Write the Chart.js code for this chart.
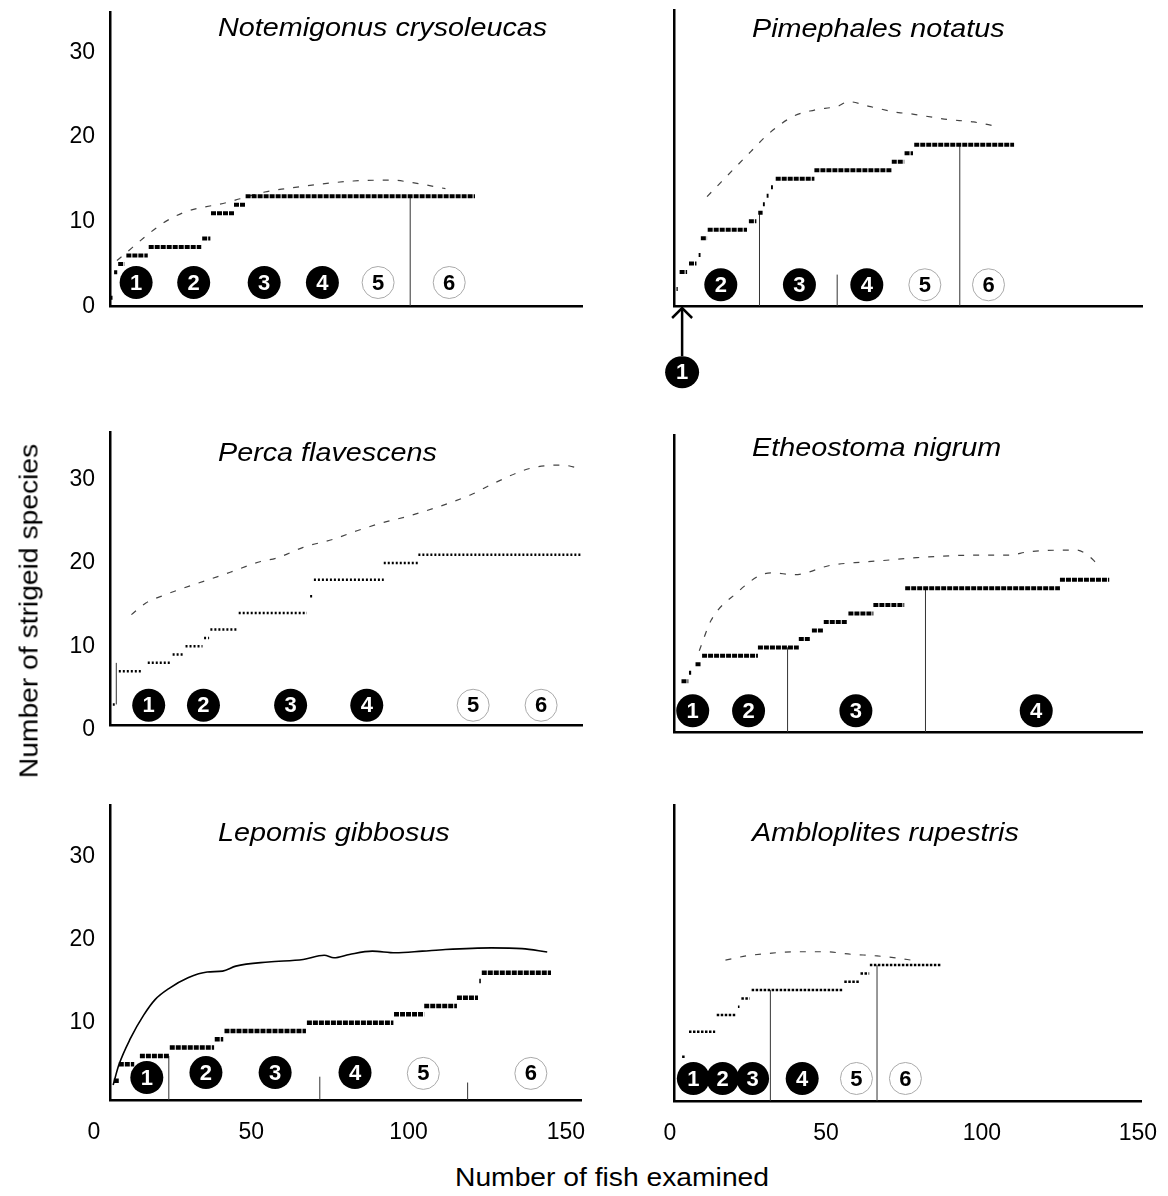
<!DOCTYPE html>
<html>
<head>
<meta charset="utf-8">
<title>Strigeid species accumulation</title>
<script src="https://cdn.jsdelivr.net/npm/chart.js@4.4.1/dist/chart.umd.min.js"></script>
<style>
  html, body { margin: 0; padding: 0; background: #fff; }
  body { position: relative; width: 1168px; height: 1196px; overflow: hidden; font-family: "Liberation Sans", Arial, sans-serif; color: #000; }
  canvas { position: absolute; }
  .sp { position: absolute; font-size: 25px; font-style: italic; line-height: 25px; white-space: nowrap; transform: scaleX(1.15); transform-origin: 0 50%; }
  .ax { position: absolute; font-size: 25px; line-height: 25px; white-space: nowrap; }
</style>
</head>
<body>
<canvas id="c1"></canvas>
<canvas id="c2"></canvas>
<canvas id="c3"></canvas>
<canvas id="c4"></canvas>
<canvas id="c5"></canvas>
<canvas id="c6"></canvas>

<div class="sp" style="left:218px;top:15px">Notemigonus crysoleucas</div>
<div class="sp" style="left:752px;top:16px">Pimephales notatus</div>
<div class="sp" style="left:218px;top:440px">Perca flavescens</div>
<div class="sp" style="left:752px;top:435px">Etheostoma nigrum</div>
<div class="sp" style="left:218px;top:820px">Lepomis gibbosus</div>
<div class="sp" style="left:752px;top:820px">Ambloplites rupestris</div>
<div class="ax" style="left:612px;top:1165px;transform:translateX(-50%) scaleX(1.13)">Number of fish examined</div>
<div class="ax" style="left:29px;top:611px;transform:translate(-50%,-50%) rotate(-90deg) scaleX(1.13)">Number of strigeid species</div>

<script>
const xTicks = [0, 50, 100, 150];
const yTicks = [0, 10, 20, 30];
const yTicksBottom = [10, 20, 30];

// Notemigonus crysoleucas
const ncStart = [0.3, 1.3, 2.6, 5.2, 12.3, 29.3, 32.1, 39.4, 43.1];
const ncEnd   = [0.8, 2.3, 4.6, 12.0, 29.0, 31.9, 39.4, 43.1, 116];
const ncVal   = [1, 4, 5, 6, 7, 8, 11, 12, 13];
const ncEstX  = [2.2, 16.8, 23.6, 37.6, 41.3, 49.2, 55.9, 66.3, 77.3, 89.5, 96.2, 106.6];
const ncEstY  = [5.4, 9.8, 11.1, 12.3, 12.7, 13.5, 13.9, 14.4, 14.8, 14.9, 14.6, 13.9];
const ncLineX = [95.4];
const ncLineLo = [0];
const ncLineHi = [13];
const ncZoneX = [8.3, 26.6, 49, 67.5, 85.2, 107.8];
const ncZoneY = [2.8, 2.8, 2.8, 2.8, 2.8, 2.8];
const ncZoneNum = ['1', '2', '3', '4', '5', '6'];
const ncZoneOpen = [false, false, false, false, true, true];

// Pimephales notatus
const pnStart = [0.8, 1.8, 4.8, 7.9, 8.6, 10.8, 24.0, 27.0, 28.5, 29.7, 31.1, 32.6, 45.0, 69.8, 73.9, 77.0];
const pnEnd   = [1.2, 4.2, 7.2, 8.5, 10.6, 23.4, 26.4, 28.4, 29.1, 30.3, 31.7, 45.0, 69.8, 73.8, 76.6, 109];
const pnVal   = [2, 4, 5, 6, 8, 9, 10, 11, 12, 13, 14, 15, 16, 17, 18, 19];
const pnEstX  = [10.6, 24.6, 30, 38.4, 45, 52.8, 55.8, 63, 72, 75, 80.4, 87.6, 96, 103.2];
const pnEstY  = [12.9, 18.2, 20.2, 22.4, 23.1, 23.6, 24.1, 23.5, 22.8, 22.7, 22.4, 22, 21.7, 21.2];
const pnLineX = [27.4, 52.3, 91.6];
const pnLineLo = [0, 0, 0];
const pnLineHi = [11, 3.7, 19];
const pnZoneX = [2.6, 15, 40.2, 61.8, 80.4, 100.8];
const pnZoneY = [-7.8, 2.5, 2.5, 2.5, 2.5, 2.5];
const pnZoneNum = ['1', '2', '3', '4', '5', '6'];
const pnZoneOpen = [false, false, false, false, true, true];

// Perca flavescens
const pfStart = [0.9, 2.8, 12.0, 19.9, 24.0, 29.9, 31.9, 40.9, 63.6, 64.8, 87.0, 98.0];
const pfEnd   = [1.5, 10.4, 19.3, 23.6, 29.4, 31.5, 40.4, 62.6, 64.5, 87.0, 97.8, 149.5];
const pfVal   = [3, 7, 8, 9, 10, 11, 12, 14, 16, 18, 20, 21];
const pfEstX  = [6.8, 11.4, 16.2, 38.2, 47.9, 52.9, 61.4, 71.2, 78.5, 87, 96.2, 114.5, 122.5, 133.5, 143.8, 148.1];
const pfEstY  = [13.8, 15.2, 16, 18.9, 20.2, 20.6, 21.9, 22.9, 23.9, 24.9, 25.8, 28.2, 29.7, 31.4, 31.8, 31.5];
const pfLineX = [2.0];
const pfLineLo = [3];
const pfLineHi = [8];
const pfZoneX = [12.3, 29.7, 57.4, 81.6, 115.4, 137];
const pfZoneY = [2.9, 2.9, 2.9, 2.9, 2.9, 2.9];
const pfZoneNum = ['1', '2', '3', '4', '5', '6'];
const pfZoneOpen = [false, false, false, false, true, true];

// Etheostoma nigrum
const enStart = [2.4, 4.8, 6.9, 9.0, 26.9, 40.0, 44.2, 48.0, 55.9, 63.9, 74.1, 123.7];
const enEnd   = [4.6, 5.5, 8.6, 26.9, 40.0, 43.8, 47.8, 55.6, 63.9, 73.8, 123.7, 139.5];
const enVal   = [6, 7, 8, 9, 10, 11, 12, 13, 14, 15, 17, 18];
const enEstX  = [8.1, 11.9, 20.3, 27.5, 31.1, 38.8, 50.2, 60.9, 68.1, 77.7, 96.8, 107.5, 113.5, 129, 132.6, 135.6];
const enEstY  = [9.6, 13.2, 16.5, 18.5, 18.8, 18.6, 19.7, 20.1, 20.3, 20.6, 20.9, 20.9, 21.3, 21.5, 20.9, 19.9];
const enLineX = [36.4, 80.6];
const enLineLo = [0, 0];
const enLineHi = [10, 17];
const enZoneX = [6, 23.9, 58.3, 116.1];
const enZoneY = [2.5, 2.5, 2.5, 2.5];
const enZoneNum = ['1', '2', '3', '4'];
const enZoneOpen = [false, false, false, false];

// Lepomis gibbosus
const lgStart = [1.2, 2.8, 9.5, 19.0, 33.3, 36.4, 62.6, 90.3, 99.9, 110.3, 117.4, 118.2];
const lgEnd   = [2.8, 7.7, 19.0, 33.1, 36.0, 62.3, 90.1, 99.9, 110.3, 117.0, 117.9, 140.2];
const lgVal   = [3, 5, 6, 7, 8, 9, 10, 11, 12, 13, 15, 16];
const lgEstX  = [1, 2.8, 6.5, 10.7, 14.4, 18.7, 24.8, 30.9, 35.8, 40, 50.4, 61.4, 68.1, 71.2, 76.1, 83.4, 90.7, 99.3, 106.6, 121.2, 131, 139];
const lgEstY  = [2.5, 4.9, 8.1, 10.9, 12.8, 14.1, 15.4, 16.1, 16.2, 16.8, 17.3, 17.6, 18.1, 17.8, 18.2, 18.6, 18.4, 18.6, 18.8, 19, 18.9, 18.5];
const lgLineX = [18.7, 66.7, 113.7];
const lgLineLo = [0.7, 0.7, 0.7];
const lgLineHi = [6, 3.5, 2.8];
const lgZoneX = [11.7, 30.5, 52.5, 77.9, 99.6, 133.8];
const lgZoneY = [3.4, 4, 4, 4, 3.9, 3.9];
const lgZoneNum = ['1', '2', '3', '4', '5', '6'];
const lgZoneOpen = [false, false, false, false, true, true];

// Ambloplites rupestris
const arStart = [2.6, 4.8, 13.7, 20.5, 21.6, 24.9, 54.6, 59.8, 62.8];
const arEnd   = [3.8, 13.2, 20.1, 21.0, 24.3, 54.4, 59.4, 62.6, 85.7];
const arVal   = [6, 9, 11, 12, 13, 14, 15, 16, 17];
const arEstX  = [16.5, 23.1, 30.3, 38.7, 48.3, 56.7, 65.1, 72.4, 76];
const arEstY  = [17.6, 18.1, 18.4, 18.6, 18.6, 18.3, 18.1, 17.8, 17.6];
const arLineX = [30.9, 65.1];
const arLineLo = [0.7, 0.7];
const arLineHi = [14, 17];
const arZoneX = [6.2, 15.6, 25.2, 41.1, 58.5, 74.2];
const arZoneY = [3.4, 3.4, 3.4, 3.4, 3.4, 3.4];
const arZoneNum = ['1', '2', '3', '4', '5', '6'];
const arZoneOpen = [false, false, false, false, true, true];

Chart.defaults.font.family = '"Liberation Sans", Arial, sans-serif';
Chart.defaults.color = '#000';

// where each column's plot box sits on the page
const cols = [
  {left: 20, area: 110, right: 582, labelOffset: -16},
  {left: 604, area: 674, right: 1142, labelOffset: -4}
];

const panels = [
  {id: 'c1', col: 0, top: 12, bottom: 307, yMin: 0, yMax: 34.8, xH: 20, yTicks: yTicks, xLabels: false,
   start: ncStart, end: ncEnd, val: ncVal, estX: ncEstX, estY: ncEstY, estSolid: false,
   lineX: ncLineX, lineLo: ncLineLo, lineHi: ncLineHi,
   zoneX: ncZoneX, zoneY: ncZoneY, zoneNum: ncZoneNum, zoneOpen: ncZoneOpen, stepW: 4, stepDash: [5, 1]},
  {id: 'c2', col: 1, top: 10, bottom: 306, yMin: 0, yMax: 34.9, xH: 95, yTicks: null, xLabels: false,
   start: pnStart, end: pnEnd, val: pnVal, estX: pnEstX, estY: pnEstY, estSolid: false,
   lineX: pnLineX, lineLo: pnLineLo, lineHi: pnLineHi,
   zoneX: pnZoneX, zoneY: pnZoneY, zoneNum: pnZoneNum, zoneOpen: pnZoneOpen, stepW: 4, stepDash: [5, 1]},
  {id: 'c3', col: 0, top: 432, bottom: 726, yMin: 0.5, yMax: 35.8, xH: 20, yTicks: yTicks, xLabels: false,
   start: pfStart, end: pfEnd, val: pfVal, estX: pfEstX, estY: pfEstY, estSolid: false,
   lineX: pfLineX, lineLo: pfLineLo, lineHi: pfLineHi,
   zoneX: pfZoneX, zoneY: pfZoneY, zoneNum: pfZoneNum, zoneOpen: pfZoneOpen, stepW: 2.5, stepDash: [2, 2]},
  {id: 'c4', col: 1, top: 435, bottom: 732, yMin: 0, yMax: 35.1, xH: 20, yTicks: null, xLabels: false,
   start: enStart, end: enEnd, val: enVal, estX: enEstX, estY: enEstY, estSolid: false,
   lineX: enLineX, lineLo: enLineLo, lineHi: enLineHi,
   zoneX: enZoneX, zoneY: enZoneY, zoneNum: enZoneNum, zoneOpen: enZoneOpen, stepW: 4, stepDash: [5, 1]},
  {id: 'c5', col: 0, top: 805, bottom: 1101, yMin: 0.7, yMax: 36.2, xH: 50, yTicks: yTicksBottom, xLabels: true,
   start: lgStart, end: lgEnd, val: lgVal, estX: lgEstX, estY: lgEstY, estSolid: true,
   lineX: lgLineX, lineLo: lgLineLo, lineHi: lgLineHi,
   zoneX: lgZoneX, zoneY: lgZoneY, zoneNum: lgZoneNum, zoneOpen: lgZoneOpen, stepW: 4.5, stepDash: [5, 1]},
  {id: 'c6', col: 1, top: 805, bottom: 1101, yMin: 0.7, yMax: 36.2, xH: 50, yTicks: null, xLabels: true,
   start: arStart, end: arEnd, val: arVal, estX: arEstX, estY: arEstY, estSolid: false,
   lineX: arLineX, lineLo: arLineLo, lineHi: arLineHi,
   zoneX: arZoneX, zoneY: arZoneY, zoneNum: arZoneNum, zoneOpen: arZoneOpen, stepW: 2.5, stepDash: [2.5, 1.5]}
];

function xy(xs, ys) {
  return xs.map((x, i) => ({x: x, y: ys[i]}));
}

// short pieces: (x0,y0)-(x1,y1), broken by a null point
function segments(x0, x1, y0, y1) {
  const out = [];
  for (let i = 0; i < x0.length; i++) {
    out.push({x: x0[i], y: y0[i]}, {x: x1[i], y: y1[i]}, {x: x1[i], y: null});
  }
  return out;
}

// numbers inside the zone circles, plus the callout below the axis
function zoneLabels(p) {
  return {
    id: 'zoneLabels',
    afterDatasetsDraw(chart) {
      const ctx = chart.ctx, xs = chart.scales.x, ys = chart.scales.y;
      ctx.save();
      ctx.textAlign = 'center';
      ctx.textBaseline = 'middle';
      ctx.font = 'bold 22px "Liberation Sans", Arial, sans-serif';
      p.zoneX.forEach((zx, i) => {
        const px = xs.getPixelForValue(zx);
        const py = ys.getPixelForValue(p.zoneY[i]);
        if (p.zoneY[i] < p.yMin) {
          const oy = ys.getPixelForValue(p.yMin);
          ctx.fillStyle = '#000';
          ctx.beginPath();
          ctx.ellipse(px, py, 17, 16, 0, 0, 2 * Math.PI);
          ctx.fill();
          ctx.strokeStyle = '#000';
          ctx.lineWidth = 2.5;
          ctx.beginPath();
          ctx.moveTo(px, py - 16);
          ctx.lineTo(px, oy + 2);
          ctx.stroke();
          ctx.beginPath();
          ctx.moveTo(px - 10, oy + 12);
          ctx.lineTo(px, oy + 2);
          ctx.lineTo(px + 10, oy + 12);
          ctx.stroke();
        }
        ctx.fillStyle = p.zoneOpen[i] ? '#000' : '#fff';
        ctx.fillText(p.zoneNum[i], px, py + 1);
      });
      ctx.restore();
    }
  };
}

function panelConfig(p, col) {
  const filled = [], open = [];
  p.zoneX.forEach((x, i) => {
    if (p.zoneY[i] < p.yMin) return;
    (p.zoneOpen[i] ? open : filled).push({x: x, y: p.zoneY[i]});
  });
  return {
    type: 'line',
    data: {
      datasets: [
        {data: filled, showLine: false, pointRadius: 16.5, pointBackgroundColor: '#000',
         pointBorderWidth: 0, clip: false},
        {data: open, showLine: false, pointRadius: 16, pointBackgroundColor: 'rgba(0,0,0,0)',
         pointBorderColor: '#aaa', pointBorderWidth: 1, clip: false},
        {data: segments(p.start, p.end, p.val, p.val), borderColor: '#000', borderWidth: p.stepW,
         borderDash: p.stepDash, pointRadius: 0},
        {data: xy(p.estX, p.estY), borderColor: p.estSolid ? '#000' : '#444',
         borderWidth: p.estSolid ? 1.6 : 1.2, borderDash: p.estSolid ? [] : [6, 9],
         pointRadius: 0, cubicInterpolationMode: 'monotone'},
        {data: segments(p.lineX, p.lineX, p.lineLo, p.lineHi), borderColor: '#333',
         borderWidth: 1, pointRadius: 0}
      ]
    },
    options: {
      responsive: false,
      maintainAspectRatio: false,
      animation: false,
      events: [],
      layout: {autoPadding: false, padding: {top: 14, right: 20, bottom: 0, left: 0}},
      plugins: {legend: {display: false}, tooltip: {enabled: false}},
      scales: {
        x: {
          type: 'linear', min: 0, max: 150,
          grid: {display: false, drawTicks: false},
          border: {color: '#000', width: 2.5},
          ticks: {display: p.xLabels, padding: 19, labelOffset: col.labelOffset, font: {size: 23}, color: '#000'},
          afterBuildTicks: s => { s.ticks = xTicks.map(v => ({value: v})); },
          afterFit: s => { s.height = p.xH; }
        },
        y: {
          type: 'linear', min: p.yMin, max: p.yMax,
          grid: {display: false, drawTicks: false},
          border: {color: '#000', width: 2.5},
          ticks: {display: !!p.yTicks, padding: 15, font: {size: 23}, color: '#000'},
          afterBuildTicks: s => { s.ticks = (p.yTicks || yTicks).map(v => ({value: v})); },
          afterFit: s => { s.width = col.area - col.left; }
        }
      }
    },
    plugins: [zoneLabels(p)]
  };
}

panels.forEach(p => {
  const col = cols[p.col];
  const cv = document.getElementById(p.id);
  const w0 = col.right + 20 - col.left;
  const h0 = p.bottom - p.top + 14 + p.xH;
  cv.width = w0;
  cv.height = h0;

  // first pass only measures the margins Chart.js keeps round the plot box
  let chart = new Chart(cv, panelConfig(p, col));
  const a = chart.chartArea;
  const w = w0 + (col.right - col.area) - (a.right - a.left);
  const h = h0 + (p.bottom - p.top) - (a.bottom - a.top);
  const offX = a.left, offY = a.top;
  chart.destroy();

  cv.width = w;
  cv.height = h;
  cv.style.left = (col.area - offX) + 'px';
  cv.style.top = (p.top - offY) + 'px';
  new Chart(cv, panelConfig(p, col));
});
</script>
</body>
</html>
